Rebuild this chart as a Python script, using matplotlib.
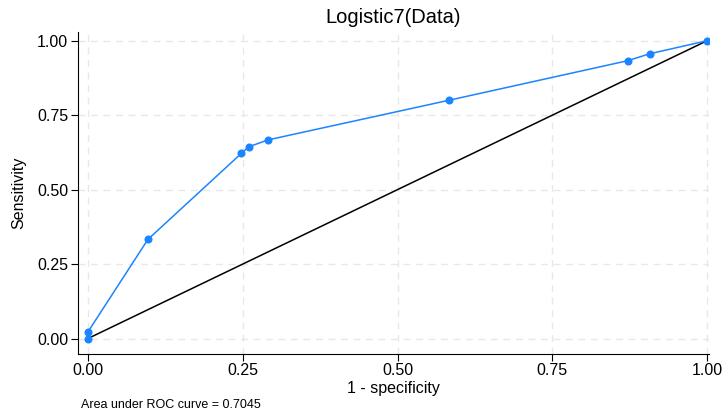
import numpy as np
import matplotlib
matplotlib.use('Agg')
import matplotlib.pyplot as plt

# Datos de la curva ROC
fpr = [0.0, 0.0, 0.097, 0.248, 0.260, 0.291, 0.583, 0.872, 0.907, 1.0]
tpr = [0.0, 0.022, 0.333, 0.622, 0.644, 0.667, 0.800, 0.933, 0.956, 1.0]
ticks = [0.0, 0.25, 0.5, 0.75, 1.0]
tick_labels = ['0.00', '0.25', '0.50', '0.75', '1.00']
auc_text = 'Area under ROC curve = 0.7045'

plt.rcParams['font.family'] = ['Liberation Sans', 'DejaVu Sans']

fig = plt.figure(figsize=(7.22, 4.18), dpi=100)
ax = fig.add_axes([0.108, 0.153, 0.874, 0.771])

# Rejilla
for t in ticks:
    ax.axhline(t, color='#e8e8e8', lw=1, ls=(0, (5, 4)), zorder=0)
    ax.axvline(t, color='#e8e8e8', lw=1, ls=(0, (5, 4)), zorder=0)

ax.plot([0, 1], [0, 1], color='black', lw=1.1, zorder=2)
ax.plot(fpr, tpr, color='#1a85ff', lw=1.1, marker='o', markersize=5.8,
        markeredgewidth=0, zorder=3)

ax.set_xlim(-0.016, 1.003)
ax.set_ylim(-0.052, 1.03)
ax.set_xticks(ticks)
ax.set_xticklabels(tick_labels)
ax.set_yticks(ticks)
ax.set_yticklabels(tick_labels)
ax.tick_params(labelsize=11.5, length=5, width=0.8, colors='black')
ax.tick_params(axis='x', pad=1.5)
ax.tick_params(axis='y', pad=2)
for s in ['top', 'right']:
    ax.spines[s].set_visible(False)
ax.spines['left'].set_linewidth(0.8)
ax.spines['bottom'].set_linewidth(0.8)

ax.set_xlabel('1 - specificity', fontsize=11.5, labelpad=2)
ax.set_ylabel('Sensitivity', fontsize=11.5, labelpad=8)
ax.set_title('Logistic7(Data)', fontsize=14.5, pad=6)
fig.text(0.112, 0.031, auc_text, fontsize=9, va='center', ha='left')

fig.savefig('out.png', dpi=100)
